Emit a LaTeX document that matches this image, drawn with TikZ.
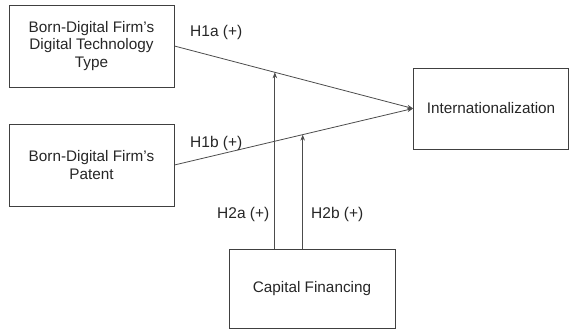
\documentclass[tikz,border=0pt]{standalone}
\usepackage{fontspec}
\setmainfont{Liberation Sans}
\usetikzlibrary{arrows.meta,calc}
\begin{document}
\begin{tikzpicture}[x=1pt,y=-1pt,
  box/.style={draw=black!75,line width=0.8pt,rectangle,inner sep=0pt,align=center,
    font=\fontsize{15.3}{17.5}\selectfont,text=black!85},
  conn/.style={draw=black!70,line width=0.8pt,-{Stealth[length=6pt,width=4.5pt]}},
  lbl/.style={font=\fontsize{15.5}{17}\selectfont,text=black!85,inner sep=0pt}]
\useasboundingbox (0,0) rectangle (570,330);
\node[box,minimum width=165pt,minimum height=82pt] (tech) at (91.5,46) {Born-Digital Firm's\\Digital Technology\\Type};
\node[box,minimum width=165pt,minimum height=82pt] (pat) at (91.5,165) {Born-Digital Firm's\\Patent};
\node[box,minimum width=155pt,minimum height=81pt] (intl) at (491,108.5) {Internationalization};
\node[box,minimum width=166pt,minimum height=79pt] (cap) at (312,289) {Capital Financing};
\draw[conn] (tech.east) -- (intl.west);
\draw[conn] (pat.east) -- (intl.west);
\coordinate (m1) at ($(tech.east)!{(275-174)/240}!(intl.west)$);
\coordinate (m2) at ($(pat.east)!{(303-174)/240}!(intl.west)$);
\draw[conn] (cap.north -| m1) -- (m1);
\draw[conn] (cap.north -| m2) -- (m2);
\node[lbl,anchor=west] (h1a) at (190,32) {H1a (+)};
\node[lbl,anchor=west] (h1b) at (190,143) {H1b (+)};
\node[lbl,anchor=west] (h2a) at (217,214) {H2a (+)};
\node[lbl,anchor=west] (h2b) at (311,214) {H2b (+)};
\end{tikzpicture}
\end{document}
